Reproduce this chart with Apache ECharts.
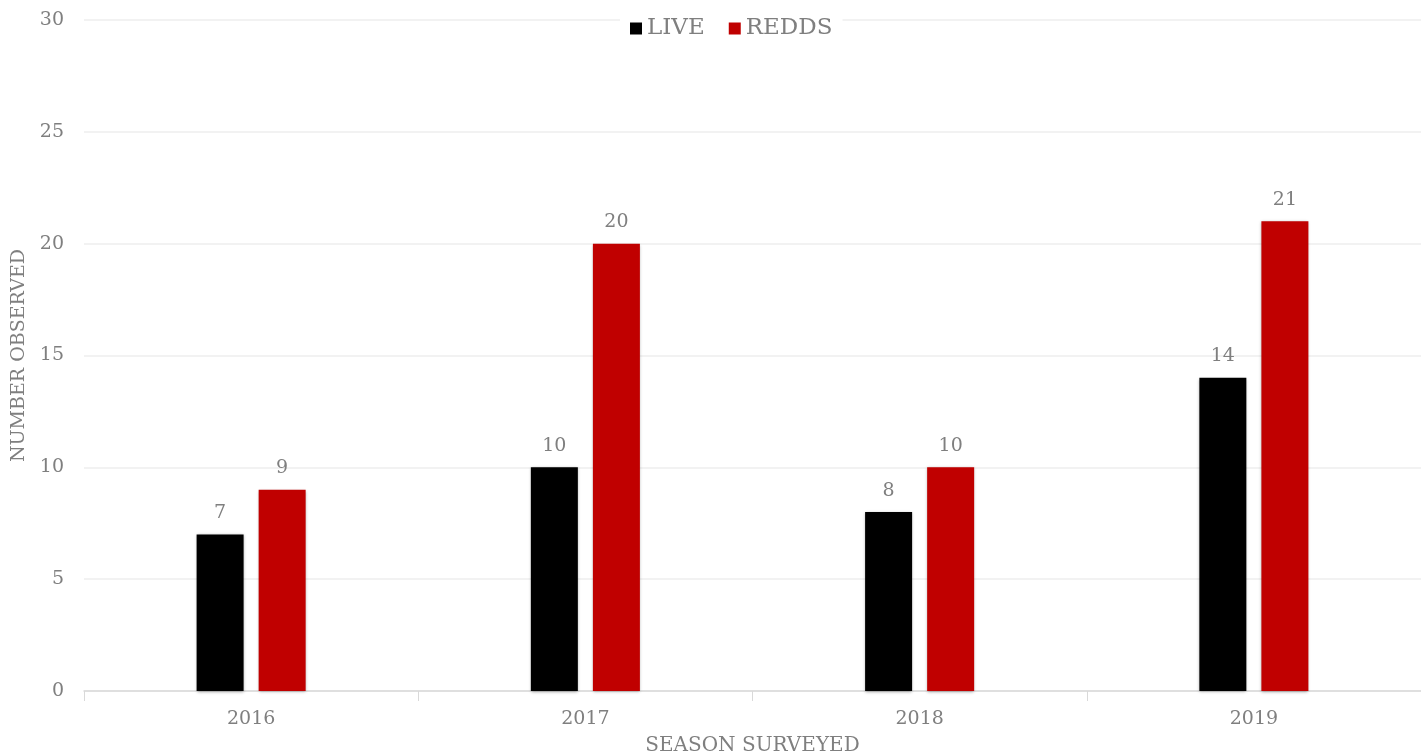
<!DOCTYPE html>
<html><head><meta charset="utf-8">
<script src="https://cdn.jsdelivr.net/npm/echarts@6/dist/echarts.min.js"></script>
<style>html,body{margin:0;padding:0;background:#fff}#c{width:1421px;height:755px}</style>
</head><body><div id="c"></div>
<script>
const categories = ['2016', '2017', '2018', '2019'];
const liveValues = [7, 10, 8, 14];
const reddsValues = [9, 20, 10, 21];
const seriesNames = ['LIVE', 'REDDS'];

const FONT = 'DejaVu Serif';
const GRAY = '#7f7f7f';
const chart = echarts.init(document.getElementById('c'));
const barStyle = c => ({ color: c, shadowBlur: 3, shadowColor: 'rgba(0,0,0,0.35)', shadowOffsetX: 0, shadowOffsetY: 1 });
const lbl = { show: true, position: 'top', distance: 12, color: GRAY, fontFamily: FONT, fontSize: 19 };
chart.setOption({
  animation: false,
  textStyle: { fontFamily: FONT },
  grid: { left: 84, right: 0, top: 20, bottom: 64, outerBoundsMode: 'none', containLabel: false },
  legend: {
    data: seriesNames, top: 14, left: 620, itemWidth: 12, itemHeight: 12, itemGap: 24,
    backgroundColor: '#fff', padding: [3, 10],
    icon: 'rect',
    textStyle: { color: GRAY, fontFamily: FONT, fontSize: 23 }
  },
  xAxis: {
    type: 'category', data: categories,
    name: 'SEASON SURVEYED', nameLocation: 'middle', nameGap: 45,
    nameTextStyle: { color: GRAY, fontFamily: FONT, fontSize: 20 },
    axisLine: { lineStyle: { color: '#d9d9d9', width: 1.5 } },
    axisTick: { show: true, length: 10, lineStyle: { color: '#d9d9d9' } },
    axisLabel: { color: GRAY, fontFamily: FONT, fontSize: 19, margin: 19 }
  },
  yAxis: {
    type: 'value', min: 0, max: 30, interval: 5,
    name: 'NUMBER OBSERVED', nameLocation: 'middle', nameGap: 54,
    nameTextStyle: { color: GRAY, fontFamily: FONT, fontSize: 19 },
    axisLine: { show: false }, axisTick: { show: false },
    axisLabel: { color: GRAY, fontFamily: FONT, fontSize: 19, margin: 20 },
    splitLine: { lineStyle: { color: '#eeeeee', width: 1.5 } }
  },
  series: [
    { name: seriesNames[0], type: 'bar', data: liveValues, barWidth: 47, barGap: '32%', itemStyle: barStyle('#000000'), label: lbl },
    { name: seriesNames[1], type: 'bar', data: reddsValues, barWidth: 47, barGap: '32%', itemStyle: barStyle('#c00000'), label: lbl }
  ]
});
</script>
</body></html>
